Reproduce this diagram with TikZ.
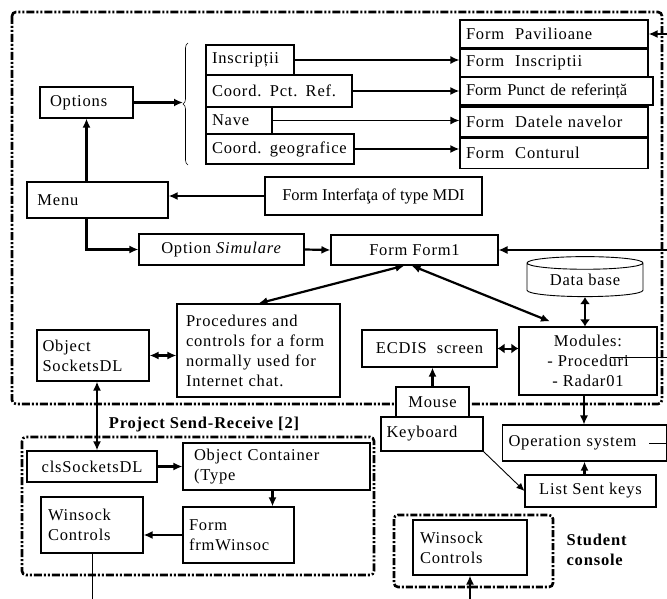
\documentclass[tikz,border=0pt]{standalone}
\usepackage{fontspec}
\setmainfont[LetterSpace=5]{Liberation Serif}
\newfontfamily\plainserif{Liberation Serif}
\usepackage{tikz}
\usetikzlibrary{arrows.meta,positioning,shapes.geometric,decorations.pathreplacing}

\begin{document}
\begin{tikzpicture}[
  x=1pt, y=-1pt,
  font=\fontsize{16.5}{20}\selectfont,
  box/.style={draw, line width=1.1pt, inner sep=0pt, align=center},
  lbox/.style={box, align=left, text width=#1},
  frame/.style={line width=2.6pt, rounded corners=4pt, dash pattern=on 8pt off 2pt on 2pt off 2pt on 2pt off 2pt},
  arr/.style={-{Latex[length=9pt,width=8pt]}, line width=2.2pt},
  tarr/.style={-{Latex[length=8pt,width=7pt]}, line width=0.9pt},
  darr/.style={{Latex[length=9pt,width=8pt]}-{Latex[length=9pt,width=8pt]}, line width=2.2pt},
  dmd/.style={{Latex[length=7pt,width=10pt]}-{Latex[length=7pt,width=10pt]}, line width=2pt}
]
  \useasboundingbox (0,0) rectangle (667,599);

  % dashed groups
  \draw[frame] (12,12) rectangle (662,404);
  \draw[frame] (22,437) rectangle (374,575);
  \draw[frame, dash pattern=on 7pt off 2pt on 2pt off 2pt] (394,515) rectangle (553,587);

  % options and sub-items
  \node[lbox=73pt, minimum width=93pt, minimum height=31pt] (options) at (86.5,102.5) {Options};
  \coordinate (bracetip) at (183,104);
  \draw[decorate, decoration={brace, amplitude=5pt}, line width=0.6pt] (188,165) -- (188,43);

  \node[lbox=76pt, minimum width=88pt, minimum height=30pt] (inscr) at (250,60) {Inscripții};
  \node[lbox=134pt, minimum width=146pt, minimum height=32pt] (coordpct) at (279,91) {Coord. Pct. Ref.};
  \node[lbox=54pt, minimum width=66pt, minimum height=27pt] (nave) at (239,120.5) {Nave};
  \node[lbox=136pt, minimum width=148pt, minimum height=30pt] (coordgeo) at (280,149) {Coord. geografice};

  % forms column
  \node[lbox=176pt, minimum width=188pt, minimum height=28pt] (fpav) at (554,34) {Form~ Pavilioane};
  \node[lbox=176pt, minimum width=188pt, minimum height=28pt, below=0pt of fpav] (finscr) {Form~ Inscriptii};
  \node[lbox=181pt, minimum width=193pt, minimum height=28pt] (fpunct) at (556.5,91) {\plainserif Form Punct de referință};
  \node[lbox=176pt, minimum width=188pt, minimum height=30pt] (fdate) at (554,122) {Form~ Datele navelor};
  \node[lbox=176pt, minimum width=188pt, minimum height=30pt, below=0pt of fdate] (fcont) {Form~ Conturul};
  \coordinate (inpav) at (667,34);

  \node[box, line width=2.4pt, minimum width=217pt, minimum height=38pt] (finterf) at (373.5,196) {\plainserif Form Interfaţa of type MDI};
  \node[lbox=120pt, minimum width=141pt, minimum height=36pt] (menu) at (97.5,200) {Menu};
  \node[box, minimum width=165pt, minimum height=31pt] (optsim) at (221.5,249.5) {Option \textit{Simulare}};
  \node[box, minimum width=167pt, minimum height=30pt] (form1) at (414.5,250) {Form Form1};
  \coordinate (inform1) at (667,250);

  \node[lbox=145pt, minimum width=163pt, minimum height=93pt] (proc) at (258.5,350.5)
    {Procedures and\\controls for a form\\normally used for\\Internet chat.};
  \node[lbox=101pt, minimum width=112pt, minimum height=51pt] (objsock) at (93,355.5) {Object\\SocketsDL};

  \node[draw, line width=0.9pt, shape=cylinder, shape border rotate=90, aspect=0.18,
        minimum width=116pt, minimum height=40pt, inner sep=0pt] (dbase) at (585,280) {Data base};
  \node[box, minimum width=138pt, minimum height=68pt] (modules) at (588,361) {Modules:\\- Proceduri\\- Radar01};
  \coordinate (modout) at (667,357);
  \node[box, minimum width=135pt, minimum height=37pt] (ecdis) at (429.5,348.5) {ECDIS~ screen};
  \node[box, fill=white, minimum width=73pt, minimum height=30pt] (mouse) at (432.5,402) {Mouse};
  \node[lbox=91pt, fill=white, minimum width=102pt, minimum height=34pt] (keyb) at (432,434) {Keyboard};
  \node[lbox=152pt, minimum width=164pt, minimum height=36pt] (opsys) at (584.5,443) {Operation system};
  \coordinate (opsout) at (667,443);
  \node[box, minimum width=131pt, minimum height=32pt] (listkeys) at (590.5,491) {List Sent keys};

  % project send-receive
  \node[font=\fontsize{16.5}{20}\selectfont\bfseries] (projlbl) at (204,425) {Project Send-Receive [2]};
  \node[box, minimum width=130pt, minimum height=31pt] (clssock) at (92,466.5) {clsSocketsDL};
  \node[lbox=165pt, minimum width=187pt, minimum height=47pt] (objcont) at (276.5,466.5) {Object Container\\(Type};
  \node[lbox=99pt, minimum width=111pt, minimum height=56pt] (frmwin) at (238.5,535) {Form\\frmWinsoc};
  \node[lbox=88pt, minimum width=102pt, minimum height=56pt] (winsl) at (92,525) {Winsock\\Controls};
  \coordinate (wslout) at (92,599);

  % student console
  \node[lbox=100pt, minimum width=114pt, minimum height=55pt] (winsr) at (470,547.5) {Winsock\\Controls};
  \node[font=\fontsize{16.5}{20}\selectfont\bfseries, align=left, anchor=west] (stlbl) at (563,550) {Student\\console};
  \coordinate (wsrin) at (470,599);

  % connectors
  \draw[arr] (options.east) -- (options.east -| bracetip);
  \draw[arr, line width=1.5pt] (inscr.east) -- (inscr.east -| finscr.west);
  \draw[arr] (coordpct.east) -- (coordpct.east -| fpunct.west);
  \draw[arr, line width=1.5pt] (nave.east) -- (nave.east -| fdate.west);
  \draw[arr] (coordgeo.east) -- (coordgeo.east -| fcont.west);
  \draw[arr] (inpav) -- (fpav.east);
  \draw[arr] (finterf.west) -- (finterf.west -| menu.east);
  \draw[arr] (menu.north -| options.south) -- (options.south);
  \draw[arr] (menu.south -| options.south) |- (optsim.west);
  \draw[arr] (optsim.east) -- (form1.west);
  \draw[arr, line width=1.2pt] (inform1) -- (form1.east);
  \draw[darr] ([xshift=-10pt]form1.south) -- (proc.north);
  \draw[darr] ([xshift=-3pt]form1.south) -- ([shift={(-38pt,5pt)}]modules.north);
  \draw[darr] (objsock.east) -- (objsock.east -| proc.west);
  \draw[dmd] (dbase.south) -- (dbase.south |- modules.north);
  \draw[dmd] (ecdis.east) -- (ecdis.east -| modules.west);
  \draw[arr] (mouse.north) -- (mouse.north |- ecdis.south);
  \draw[line width=0.9pt] ([shift={(22pt,4pt)}]modules.center) -- (modout);
  \draw[arr, line width=1.3pt] ([xshift=-4pt]modules.south) -- ([xshift=-4pt]modules.south |- opsys.north);
  \draw[arr] (listkeys.north -| opsys.south) -- (opsys.south);
  \draw[tarr] (keyb.south east) -- (listkeys.west);
  \draw[line width=0.9pt] ([xshift=-18pt]opsout) -- (opsout);
  \draw[darr] ([xshift=4pt]objsock.south) -- ([xshift=4pt]objsock.south |- clssock.north);
  \draw[arr] (clssock.east) -- (clssock.east -| objcont.west);
  \draw[arr] ([xshift=-4pt]objcont.south) -- ([xshift=-4pt]objcont.south |- frmwin.north);
  \draw[arr] (frmwin.west) -- (frmwin.west -| winsl.east);
  \draw[line width=0.9pt] (winsl.south) -- (wslout);
  \draw[arr] (wsrin) -- (winsr.south);
\end{tikzpicture}
\end{document}
